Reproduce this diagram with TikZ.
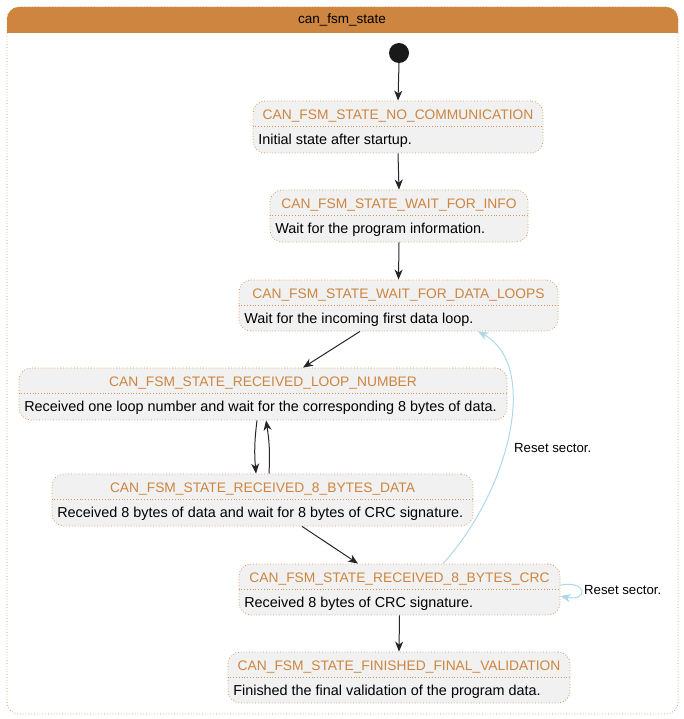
\documentclass[tikz,border=0pt]{standalone}
\usepackage{fontspec}
\setmainfont{Liberation Sans}
\usetikzlibrary{arrows.meta,calc}
\definecolor{peru}{HTML}{CD853F}
\definecolor{stfill}{HTML}{F1F1F1}
\definecolor{lblue}{HTML}{ADD8E6}
\tikzset{
  statebox/.style={draw=peru!85, fill=stfill, rounded corners=12pt, line width=0.8pt,
    dash pattern=on 0.8pt off 2pt, inner sep=0pt},
  sttitle/.style={text=peru, font=\fontsize{13.8pt}{16pt}\selectfont, inner sep=0pt, anchor=center},
  stdesc/.style={text=black, font=\fontsize{14.4pt}{16pt}\selectfont, inner sep=0pt, anchor=west},
  sepline/.style={draw=peru!85, line width=0.8pt, dash pattern=on 0.8pt off 2pt},
  tr/.style={draw=black!85, line width=1pt, -{Stealth[length=10pt,width=8pt,inset=3pt]}},
  trb/.style={draw=lblue, line width=1pt, -{Stealth[length=10pt,width=8pt,inset=3pt]}},
  lbl/.style={font=\fontsize{13.2pt}{15pt}\selectfont, inner sep=0pt, anchor=west}
}
\newcommand\mkstate[7]{%
  \node[statebox, minimum width=#4pt, minimum height=#5pt] (#1) at (#2,#3) {};
  \node[sttitle] (#1t) at ([yshift=-15.5pt]#1.north) {#6};
  \draw[sepline] ([yshift=-26pt]#1.north west) -- ([yshift=-26pt]#1.north east);
  \node[stdesc] (#1d) at ([xshift=5.5pt,yshift=-40.5pt]#1.north west) {#7};
}
\begin{document}
\begin{tikzpicture}[x=1pt,y=-1pt]
\useasboundingbox (0,0) rectangle (683,719);
% container
\draw[draw=peru!85, line width=0.8pt, dash pattern=on 0.8pt off 2pt, rounded corners=12pt] (7,7) rectangle (678,714);
\begin{scope}
\clip (6,6) rectangle (679,33);
\fill[peru, rounded corners=12pt] (7,7) rectangle (678,60);
\end{scope}
\node[font=\fontsize{13.5pt}{16pt}\selectfont, inner sep=0pt] (hdr) at (342,20) {can\_fsm\_state};
% initial
\node[circle, fill=black!90, minimum size=20pt, inner sep=0pt] (init) at (399,53) {};
% states
\mkstate{s1}{398}{127}{290}{52}{CAN\_FSM\_STATE\_NO\_COMMUNICATION}{Initial state after startup.}
\mkstate{s2}{399}{216}{258}{52}{CAN\_FSM\_STATE\_WAIT\_FOR\_INFO}{Wait for the program information.}
\mkstate{s3}{398.5}{305.5}{319}{51}{CAN\_FSM\_STATE\_WAIT\_FOR\_DATA\_LOOPS}{Wait for the incoming first data loop.}
\mkstate{s4}{263}{394}{488}{52}{CAN\_FSM\_STATE\_RECEIVED\_LOOP\_NUMBER}{Received one loop number and wait for the corresponding 8 bytes of data.}
\mkstate{s5}{262.5}{500}{421}{52}{CAN\_FSM\_STATE\_RECEIVED\_8\_BYTES\_DATA}{Received 8 bytes of data and wait for 8 bytes of CRC signature.}
\mkstate{s6}{399.5}{589.5}{321}{51}{CAN\_FSM\_STATE\_RECEIVED\_8\_BYTES\_CRC}{Received 8 bytes of CRC signature.}
\mkstate{s7}{399}{677.5}{342}{51}{CAN\_FSM\_STATE\_FINISHED\_FINAL\_VALIDATION}{Finished the final validation of the program data.}
% transitions
\draw[tr] (init.south) -- (s1.north);
\draw[tr] (s1.south) -- (s2.north);
\draw[tr] (s2.south) -- (s3.north);
\draw[tr] ([xshift=-38.5pt]s3.south) -- ([xshift=40pt]s4.north);
\draw[tr] ([xshift=-6pt]s4.south) to[bend right=6] ([xshift=-6.5pt]s5.north);
\draw[tr] ([xshift=6.5pt]s5.north) to[bend right=6] ([xshift=3pt]s4.south);
\draw[tr] ([xshift=39.5pt]s5.south) -- ([xshift=-41.5pt]s6.north);
\draw[tr] (s6.south) -- (s7.north);
\draw[trb] ([xshift=43.5pt]s6.north) .. controls (510,490) and (540,365) .. ([xshift=79.5pt]s3.south);
\node[lbl] (l1) at (514,448) {Reset sector.};
\coordinate (sl1) at ([yshift=4.5pt]s6.east);
\coordinate (sl2) at ([yshift=-6.5pt]s6.east);
\draw[trb] (sl1) .. controls (588,580) and (588,602) .. (sl2);
\node[lbl] (l2) at (584,590) {Reset sector.};
\end{tikzpicture}
\end{document}
